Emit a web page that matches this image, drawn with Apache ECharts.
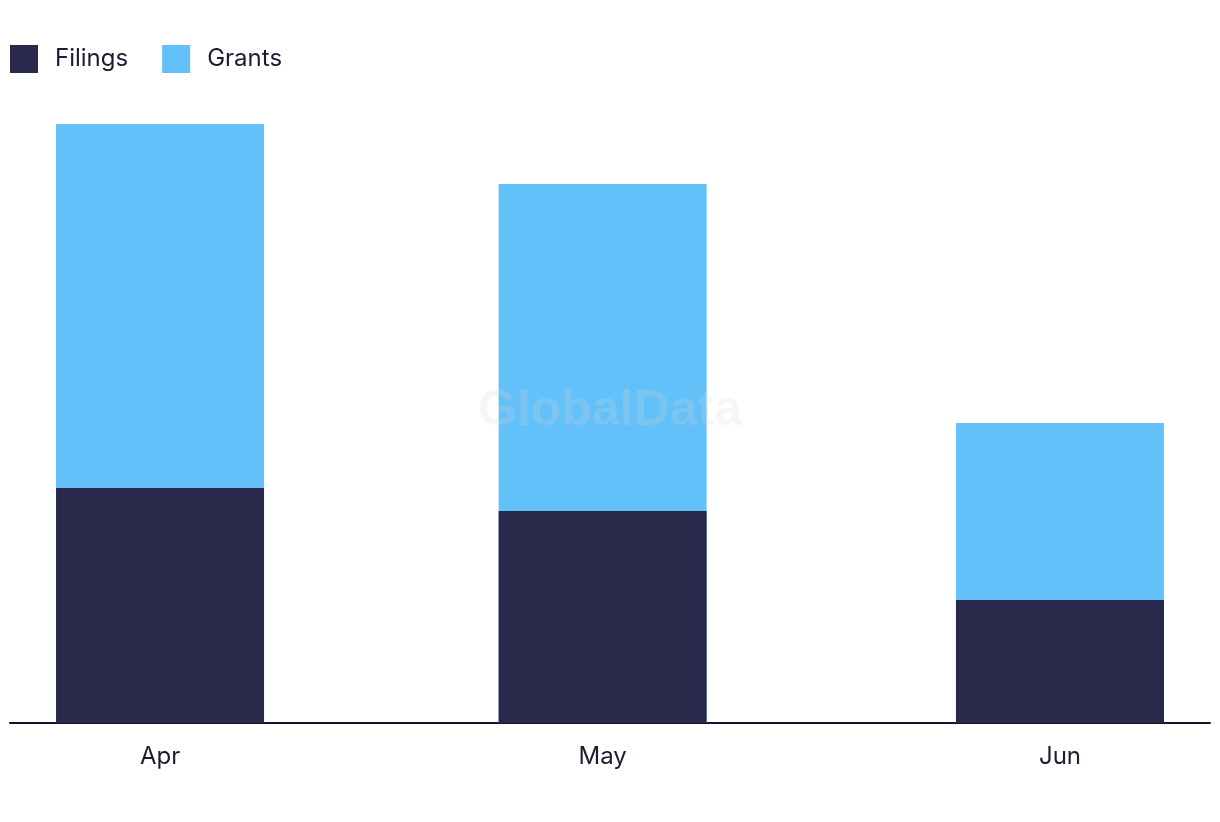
<!DOCTYPE html>
<html>
<head>
<meta charset="utf-8">
<style>html,body{margin:0;padding:0;background:#fff}#c{width:1220px;height:822px}</style>
<script src="https://cdn.jsdelivr.net/npm/echarts@6/dist/echarts.min.js"></script>
</head>
<body>
<div id="c"></div>
<script>
// Month labels and their position in days from 1 April
const months = ['Apr', 'May', 'Jun'];
const dayOffsets = [0, 30, 61];
const filings = [235, 212, 123];
const grants = [364, 327, 177];

const chart = echarts.init(document.getElementById('c'));
const font = 'Inter, "Noto Sans", sans-serif';
chart.setOption({
  animation: false,
  backgroundColor: '#fff',
  legend: {
    left: 10, top: 45, padding: 0,
    itemWidth: 28, itemHeight: 28, itemGap: 34,
    icon: 'rect',
    textStyle: { fontSize: 24, color: '#1b1b33', fontFamily: font, padding: [0, 0, 0, 12] },
    data: ['Filings', 'Grants']
  },
  grid: { left: 10, right: 10, top: 100, bottom: 99, containLabel: false },
  xAxis: {
    type: 'value',
    min: -10.17, max: 71.17,
    splitLine: { show: false },
    axisLine: { show: true, onZero: false, lineStyle: { color: '#14142a', width: 2 } },
    axisTick: { show: false },
    axisLabel: {
      customValues: dayOffsets,
      formatter: v => months[dayOffsets.indexOf(v)],
      fontSize: 24, color: '#1b1b33', fontFamily: font, margin: 22
    }
  },
  yAxis: { type: 'value', min: 0, max: 623, show: false, splitLine: { show: false } },
  series: [
    // Grants drawn as the full stack (filings + grants) behind the filings bar
    { name: 'Grants', type: 'bar', barWidth: 208, barGap: '-100%', z: 1,
      itemStyle: { color: '#62c1f8' },
      data: dayOffsets.map((d, i) => [d, filings[i] + grants[i]]) },
    { name: 'Filings', type: 'bar', barWidth: 208, barGap: '-100%', z: 2,
      itemStyle: { color: '#28284b' },
      data: dayOffsets.map((d, i) => [d, filings[i]]) }
  ],
  graphic: [{
    type: 'text', left: 'center', top: 386, z: 100,
    style: { text: 'GlobalData', font: 'bold 50px "Liberation Sans", Arial, sans-serif',
      fill: 'rgba(216,216,216,0.22)' }
  }]
});
</script>
</body>
</html>
